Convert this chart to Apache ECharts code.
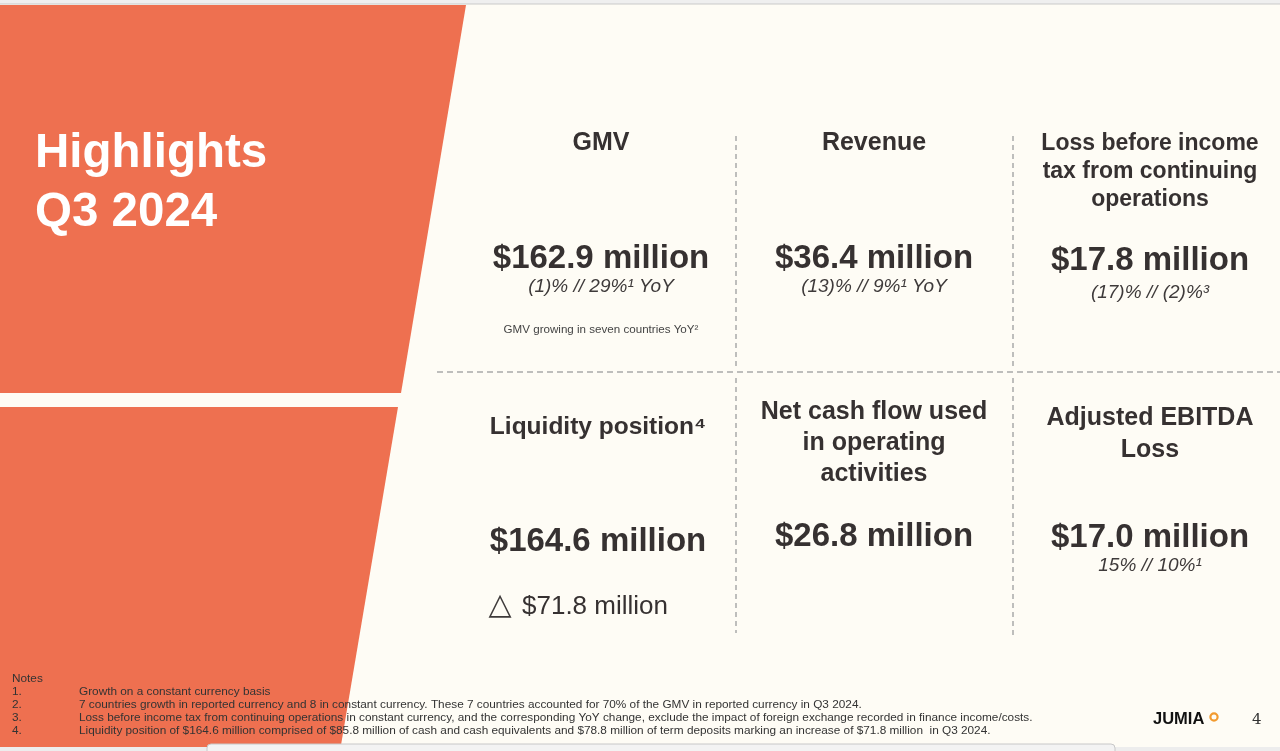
<!DOCTYPE html>
<html>
<head>
<meta charset="utf-8">
<script src="https://cdn.jsdelivr.net/npm/echarts@6/dist/echarts.min.js"></script>
<style>
html,body{margin:0;padding:0;background:#FEFCF5;}
#main{width:1280px;height:751px;}
</style>
</head>
<body>
<div id="main"></div>
<script>
// ---- data ----
const slideTitle = ['Highlights', 'Q3 2024'];
const metricNames = [
  'GMV',
  'Revenue',
  'Loss before income\ntax from continuing\noperations',
  'Liquidity position\u2074',
  'Net cash flow used\nin operating\nactivities',
  'Adjusted EBITDA\nLoss'
];
const metricValues = ['$162.9 million', '$36.4 million', '$17.8 million', '$164.6 million', '$26.8 million', '$17.0 million'];
const metricChanges = ['(1)% // 29%\u00B9 YoY', '(13)% // 9%\u00B9 YoY', '(17)% // (2)%\u00B3', '', '', '15% // 10%\u00B9'];
const gmvNote = 'GMV growing in seven countries YoY\u00B2';
const liquidityDelta = ['\u25B3', '$71.8 million'];
const notesTitle = 'Notes';
const notesNums = ['1.', '2.', '3.', '4.'];
const notesText = [
  'Growth on a constant currency basis',
  '7 countries growth in reported currency and 8 in constant currency. These 7 countries accounted for 70% of the GMV in reported currency in Q3 2024.',
  'Loss before income tax from continuing operations in constant currency, and the corresponding YoY change, exclude the impact of foreign exchange recorded in finance income/costs.',
  'Liquidity position of $164.6 million comprised of $85.8 million of cash and cash equivalents and $78.8 million of term deposits marking an increase of $71.8 million  in Q3 2024.'
];
const brand = 'JUMIA';
const pageNo = '4';

// ---- layout ----
const ORANGE = '#EE7050';
const CREAM = '#FEFCF5';
const DARK = '#363131';
const SANS = '"Liberation Sans", Arial, Helvetica, sans-serif';
const colX = [601, 874, 1150, 598, 874, 1150];
const headTop = [129, 129, 130, 412, 397, 402];
const headLH = [28, 28, 28, 30, 31, 32];
const headSize = [25, 25, 23, 24.5, 25, 25];
const valueY = [259, 259, 261, 542, 537, 538];
const changeY = [287, 287, 293, 0, 0, 566];

const chart = echarts.init(document.getElementById('main'), null, {renderer: 'canvas'});
const g = [];

// background
g.push({type: 'rect', shape: {x: 0, y: 0, width: 1280, height: 751}, style: {fill: CREAM}, silent: true});
// top strip
g.push({type: 'rect', shape: {x: 0, y: 0, width: 1280, height: 4}, style: {fill: '#EFEFEF'}});
g.push({type: 'line', shape: {x1: 0, y1: 4, x2: 1280, y2: 4}, style: {stroke: '#C9C9C9', lineWidth: 1}});
// orange panels
g.push({type: 'polygon', shape: {points: [[0, 5], [466, 5], [401, 393], [0, 393]]}, style: {fill: ORANGE}});
g.push({type: 'polygon', shape: {points: [[0, 407], [398, 407], [340, 751], [0, 751]]}, style: {fill: ORANGE}});

// title
g.push({type: 'text', x: 35, y: 154, style: {text: slideTitle[0], font: 'bold 47.5px ' + SANS, fill: '#FFFFFF', verticalAlign: 'middle'}});
g.push({type: 'text', x: 35, y: 213, style: {text: slideTitle[1], font: 'bold 47.5px ' + SANS, fill: '#FFFFFF', verticalAlign: 'middle'}});

// dashed grid
const dash = {stroke: '#A9A9A9', lineWidth: 1.5, lineDash: [5, 4]};
g.push({type: 'line', shape: {x1: 736, y1: 136, x2: 736, y2: 368}, style: dash});
g.push({type: 'line', shape: {x1: 736, y1: 378, x2: 736, y2: 633}, style: dash});
g.push({type: 'line', shape: {x1: 1013, y1: 136, x2: 1013, y2: 368}, style: dash});
g.push({type: 'line', shape: {x1: 1013, y1: 378, x2: 1013, y2: 638}, style: dash});
g.push({type: 'line', shape: {x1: 437, y1: 372, x2: 1280, y2: 372}, style: {stroke: '#A9A9A9', lineWidth: 1.5, lineDash: [6, 4]}});

// metrics
metricNames.forEach(function (name, i) {
  g.push({type: 'text', x: colX[i], y: headTop[i], style: {
    text: name, font: 'bold ' + headSize[i] + 'px ' + SANS, fill: DARK, align: 'center', verticalAlign: 'top', lineHeight: headLH[i]
  }});
  g.push({type: 'text', x: colX[i], y: valueY[i], style: {
    text: metricValues[i], font: 'bold 33px ' + SANS, fill: DARK, align: 'center', verticalAlign: 'middle'
  }});
  if (metricChanges[i]) {
    g.push({type: 'text', x: colX[i], y: changeY[i], style: {
      text: metricChanges[i], font: 'italic 19px ' + SANS, fill: '#3E3A3A', align: 'center', verticalAlign: 'middle'
    }});
  }
});
g.push({type: 'text', x: 601, y: 330, style: {text: gmvNote, font: '11.6px ' + SANS, fill: '#444444', align: 'center', verticalAlign: 'middle'}});
g.push({type: 'text', x: 500, y: 606, style: {text: liquidityDelta[0], font: '30px "DejaVu Sans", sans-serif', fill: '#3E3A3A', align: 'center', verticalAlign: 'middle'}});
g.push({type: 'text', x: 522, y: 607, style: {text: liquidityDelta[1], font: '26px ' + SANS, fill: DARK, verticalAlign: 'middle'}});

// notes
g.push({type: 'text', x: 12, y: 679, style: {text: notesTitle, font: '11.8px ' + SANS, fill: '#333333', verticalAlign: 'middle'}});
notesNums.forEach(function (n, i) {
  g.push({type: 'text', x: 12, y: 692 + i * 13, style: {text: n, font: '11.8px ' + SANS, fill: '#333333', verticalAlign: 'middle'}});
  g.push({type: 'text', x: 79, y: 692 + i * 13, style: {text: notesText[i], font: '11.8px ' + SANS, fill: '#333333', verticalAlign: 'middle'}});
});

// brand + page
g.push({type: 'text', x: 1153, y: 719, style: {text: brand, font: 'bold 16.5px ' + SANS, fill: '#111111', verticalAlign: 'middle'}});
g.push({type: 'circle', shape: {cx: 1214, cy: 717, r: 3.6}, style: {fill: 'none', stroke: '#F29A2E', lineWidth: 2.2}});
g.push({type: 'text', x: 1252, y: 720, style: {text: pageNo, font: '15px "DejaVu Serif", serif', fill: '#333333', verticalAlign: 'middle'}});

// bottom tab
g.push({type: 'rect', shape: {x: 0, y: 747, width: 1280, height: 4}, style: {fill: '#EDEDED'}});
g.push({type: 'rect', shape: {x: 207, y: 744, width: 908, height: 16, r: 4}, style: {fill: '#F3F3F3', stroke: '#C8C8C8', lineWidth: 1}});

chart.setOption({animation: false, graphic: {elements: g}});
</script>
</body>
</html>
